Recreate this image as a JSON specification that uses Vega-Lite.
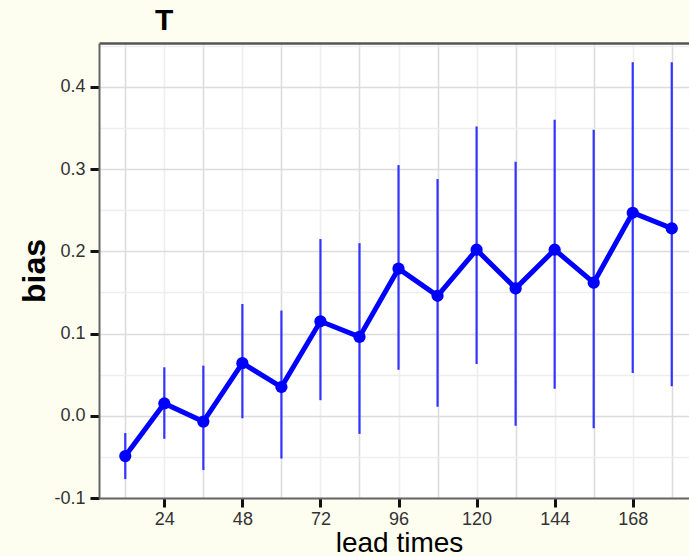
{
  "$schema": "https://vega.github.io/schema/vega-lite/v6.json",
  "autosize": {"type": "none"},
  "padding": {"left": 99, "top": 43, "right": 0, "bottom": 58},
  "width": 590,
  "height": 455,
  "background": "#fdfdf0",
  "title": {
    "text": "T",
    "anchor": "start",
    "frame": "group",
    "dx": 56,
    "dy": 33,
    "offset": 10,
    "baseline": "alphabetic",
    "font": "Liberation Sans",
    "fontSize": 30,
    "fontWeight": "bold",
    "color": "#000000"
  },
  "config": {
    "view": {"stroke": null, "fill": "#ffffff"},
    "axis": {"labelFont": "Liberation Sans", "titleFont": "Liberation Sans"}
  },
  "data": {
    "values": [
      {"lead": 12, "bias": -0.049, "lo": -0.077, "hi": -0.021},
      {"lead": 24, "bias": 0.015, "lo": -0.028, "hi": 0.059},
      {"lead": 36, "bias": -0.007, "lo": -0.066, "hi": 0.061},
      {"lead": 48, "bias": 0.064, "lo": -0.003, "hi": 0.136},
      {"lead": 60, "bias": 0.035, "lo": -0.052, "hi": 0.128},
      {"lead": 72, "bias": 0.115, "lo": 0.019, "hi": 0.215},
      {"lead": 84, "bias": 0.096, "lo": -0.022, "hi": 0.21},
      {"lead": 96, "bias": 0.179, "lo": 0.056, "hi": 0.305},
      {"lead": 108, "bias": 0.146, "lo": 0.011, "hi": 0.288},
      {"lead": 120, "bias": 0.202, "lo": 0.063, "hi": 0.352},
      {"lead": 132, "bias": 0.155, "lo": -0.012, "hi": 0.309},
      {"lead": 144, "bias": 0.202, "lo": 0.033, "hi": 0.36},
      {"lead": 156, "bias": 0.162, "lo": -0.015, "hi": 0.348},
      {"lead": 168, "bias": 0.247, "lo": 0.052, "hi": 0.43},
      {"lead": 180, "bias": 0.228, "lo": 0.036, "hi": 0.43}
    ]
  },
  "resolve": {"axis": {"x": "independent"}},
  "layer": [
    {
      "mark": {"type": "rule", "color": "#3333ff", "strokeWidth": 2.2},
      "encoding": {
        "x": {
          "field": "lead",
          "type": "quantitative",
          "scale": {"domain": [3.92, 185.3], "nice": false, "zero": false},
          "axis": {
            "orient": "bottom",
            "title": "lead times",
            "titleFontSize": 28,
            "titleFontWeight": "normal",
            "titleColor": "#000000",
            "titleBaseline": "alphabetic",
            "titleX": 300,
            "titleY": 53,
            "values": [12, 24, 36, 48, 60, 72, 84, 96, 108, 120, 132, 144, 156, 168, 180],
            "labelExpr": "datum.value % 24 === 0 ? datum.label : ''",
            "labelFontSize": 18,
            "labelColor": "#333333",
            "labelPadding": 3,
            "labelFlush": false,
            "labelOverlap": false,
            "domainColor": "#666666",
            "domainWidth": 2,
            "tickSize": 9,
            "tickWidth": 3,
            "tickColor": {"condition": {"test": "datum.value % 24 === 0", "value": "#111111"}, "value": "transparent"},
            "grid": true,
            "gridWidth": 1.6,
            "gridColor": {"condition": {"test": "datum.value % 24 === 0", "value": "#eeeeee"}, "value": "#dcdcdc"}
          }
        },
        "y": {
          "field": "lo",
          "type": "quantitative",
          "title": "bias",
          "scale": {"domain": [-0.1, 0.4535], "nice": false, "zero": false},
          "axis": {
            "title": "bias",
            "titleFontSize": 32,
            "titleFontWeight": "bold",
            "titleColor": "#000000",
            "titleAngle": -90,
            "titleBaseline": "alphabetic",
            "titleX": -55,
            "values": [-0.1, -0.05, 0, 0.05, 0.1, 0.15, 0.2, 0.25, 0.3, 0.35, 0.4, 0.45],
            "labelExpr": "round(datum.value * 20) % 2 === 0 ? (datum.value < 0 ? '-' + format(-datum.value, '.1f') : format(datum.value, '.1f')) : ''",
            "labelFontSize": 18,
            "labelColor": "#333333",
            "labelPadding": 5,
            "labelFlush": false,
            "labelOverlap": false,
            "domainColor": "#666666",
            "domainWidth": 2,
            "tickSize": 9,
            "tickWidth": 3,
            "tickColor": {"condition": {"test": "round(datum.value * 20) % 2 === 0", "value": "#111111"}, "value": "transparent"},
            "grid": true,
            "gridWidth": 1.6,
            "gridColor": {"condition": {"test": "round(datum.value * 20) % 2 === 0", "value": "#dcdcdc"}, "value": "#eeeeee"}
          }
        },
        "y2": {"field": "hi"}
      }
    },
    {
      "mark": {"type": "line", "color": "#0000ff", "strokeWidth": 5},
      "encoding": {
        "x": {
          "field": "lead",
          "type": "quantitative",
          "axis": {
            "orient": "top",
            "title": null,
            "labels": false,
            "ticks": false,
            "grid": false,
            "domainColor": "#555555",
            "domainWidth": 2.5
          }
        },
        "y": {"field": "bias", "type": "quantitative", "title": "bias"}
      }
    },
    {
      "mark": {"type": "point", "filled": true, "color": "#0000ff", "opacity": 1, "size": 150},
      "encoding": {
        "x": {"field": "lead", "type": "quantitative", "axis": null},
        "y": {"field": "bias", "type": "quantitative", "title": "bias"}
      }
    }
  ]
}
